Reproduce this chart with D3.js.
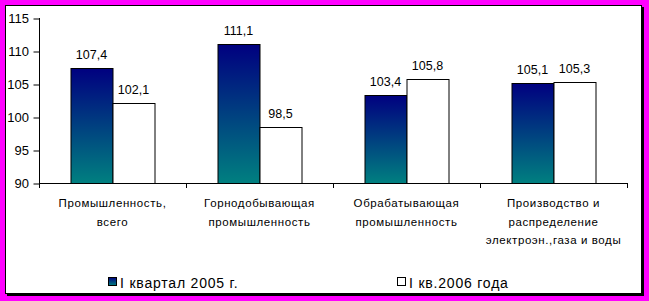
<!DOCTYPE html>
<html>
<head>
<meta charset="utf-8">
<script src="https://cdn.jsdelivr.net/npm/d3@7"></script>
<style>
  body { margin: 0; background: #ff00ff; }
  text { font-family: "Liberation Sans", Arial, sans-serif; fill: #000; }
</style>
</head>
<body>
<svg></svg>
<script>
width = 649;
height = 301;

categories = [
  ['Промышленность,', 'всего'],
  ['Горнодобывающая', 'промышленность'],
  ['Обрабатывающая', 'промышленность'],
  ['Производство и', 'распределение', 'электроэн.,газа и воды']
];
series2005 = [107.4, 111.1, 103.4, 105.1];
series2006 = [102.1, 98.5, 105.8, 105.3];
seriesNames = ['I квартал 2005 г.', 'I кв.2006 года'];
yTicks = [90, 95, 100, 105, 110, 115];

svg = d3.select('svg')
  .attr('width', width)
  .attr('height', height);

defs = svg.append('defs');
grad = defs.append('linearGradient')
  .attr('id', 'g1')
  .attr('x1', 0).attr('y1', 0).attr('x2', 0).attr('y2', 1);
grad.append('stop').attr('offset', '0%').attr('stop-color', '#000080');
grad.append('stop').attr('offset', '100%').attr('stop-color', '#008080');

// frame
svg.append('rect')
  .attr('x', 0).attr('y', 0).attr('width', width).attr('height', height)
  .attr('fill', '#ff00ff');
svg.append('rect')
  .attr('x', 7).attr('y', 7).attr('width', 637).attr('height', 289)
  .attr('fill', '#000');
svg.append('rect')
  .attr('x', 5.5).attr('y', 5.5).attr('width', 636).attr('height', 288)
  .attr('fill', '#fff').attr('stroke', '#000').attr('stroke-width', 1);

x0 = d3.scaleBand()
  .domain(d3.range(categories.length))
  .range([39, 627]);
y = d3.scaleLinear().domain([90, 115]).range([183, 18]);
barW = 42;

g = svg.append('g');

// y axis
yAxis = g.append('g')
  .attr('transform', 'translate(39,0)')
  .call(d3.axisLeft(y).tickValues(yTicks).tickSize(6).tickPadding(4).tickFormat(d3.format('d')));
yAxis.select('.domain').attr('stroke', '#000').attr('d', 'M0.5,' + y(115) + 'V' + y(90));
yAxis.selectAll('line').attr('stroke', '#000').attr('transform', 'translate(0.5,0.5)');
yAxis.selectAll('text').attr('font-size', 13).attr('fill', '#000');

// bars
data = categories.map((c, i) => ({ i, a: series2005[i], b: series2006[i] }));
groups = g.selectAll('.grp')
  .data(data)
  .enter().append('g')
  .attr('transform', d => `translate(${x0(d.i) + x0.bandwidth() / 2 - barW},0)`);

groups.append('rect')
  .attr('x', 0.5)
  .attr('y', d => Math.round(y(d.a)) + 0.5)
  .attr('width', barW)
  .attr('height', d => y(90) - Math.round(y(d.a)))
  .attr('fill', 'url(#g1)')
  .attr('stroke', '#000');
groups.append('rect')
  .attr('x', barW + 0.5)
  .attr('y', d => Math.round(y(d.b)) + 0.5)
  .attr('width', barW)
  .attr('height', d => y(90) - Math.round(y(d.b)))
  .attr('fill', '#fff')
  .attr('stroke', '#000');

fmt = v => v.toFixed(1).replace('.', ',');
groups.append('text')
  .attr('x', barW / 2)
  .attr('y', d => y(d.a) - 9)
  .attr('text-anchor', 'middle')
  .attr('font-size', 12.5)
  .text(d => fmt(d.a));
groups.append('text')
  .attr('x', barW * 1.5)
  .attr('y', d => y(d.b) - 9)
  .attr('text-anchor', 'middle')
  .attr('font-size', 12.5)
  .text(d => fmt(d.b));

// x axis
xa = g.append('g');
xa.append('line')
  .attr('x1', 39).attr('x2', 627).attr('y1', 183.5).attr('y2', 183.5)
  .attr('stroke', '#000');
xa.selectAll('.tk')
  .data(d3.range(categories.length + 1))
  .enter().append('line')
  .attr('x1', d => Math.round(39 + d * x0.bandwidth()) + 0.5)
  .attr('x2', d => Math.round(39 + d * x0.bandwidth()) + 0.5)
  .attr('y1', 183).attr('y2', 188)
  .attr('stroke', '#000');

catText = xa.selectAll('.cat')
  .data(categories)
  .enter().append('text')
  .attr('text-anchor', 'middle')
  .attr('font-size', 11.5)
  .attr('letter-spacing', 0.6)
  .attr('transform', (d, i) => `translate(${x0(i) + x0.bandwidth() / 2},207)`);
catText.selectAll('tspan')
  .data(d => d)
  .enter().append('tspan')
  .attr('x', 0)
  .attr('y', (d, j) => j * 18.5)
  .text(d => d);

// legend
legendX = [108, 397];
leg = g.selectAll('.leg')
  .data(seriesNames)
  .enter().append('g')
  .attr('transform', (d, i) => `translate(${legendX[i]},277)`);
leg.append('rect')
  .attr('x', 0.5).attr('y', 0.5).attr('width', 8).attr('height', 8)
  .attr('fill', (d, i) => i === 0 ? 'url(#g1)' : '#fff')
  .attr('stroke', '#000');
leg.append('text')
  .attr('x', 12)
  .attr('y', 11)
  .attr('font-size', 14)
  .attr('letter-spacing', 0.8)
  .text(d => d);
</script>
</body>
</html>
